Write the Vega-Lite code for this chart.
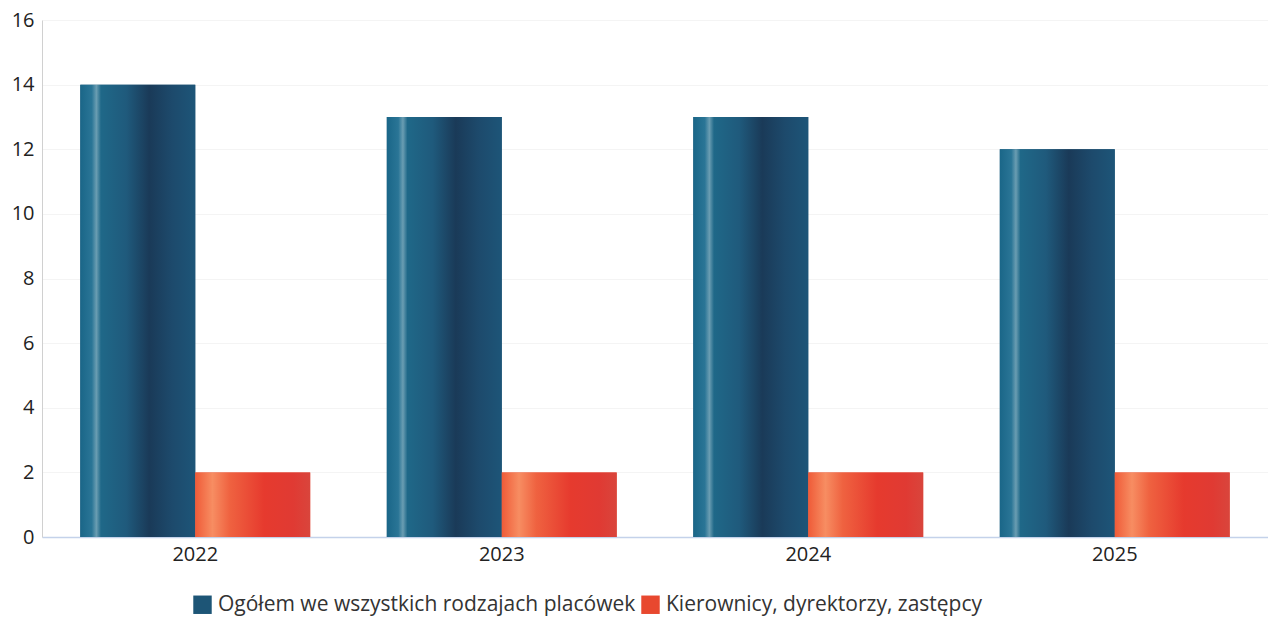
{
  "$schema": "https://vega.github.io/schema/vega-lite/v6.json",
  "width": 1226,
  "height": 517,
  "autosize": {"type": "none"},
  "padding": {"left": 42, "top": 20, "right": 0, "bottom": 87},
  "background": "white",
  "config": {
    "font": "Open Sans",
    "view": {"stroke": null}
  },
  "data": {
    "values": [
      {"year": "2022", "series": "Ogółem we wszystkich rodzajach placówek", "value": 14},
      {"year": "2022", "series": "Kierownicy, dyrektorzy, zastępcy", "value": 2},
      {"year": "2023", "series": "Ogółem we wszystkich rodzajach placówek", "value": 13},
      {"year": "2023", "series": "Kierownicy, dyrektorzy, zastępcy", "value": 2},
      {"year": "2024", "series": "Ogółem we wszystkich rodzajach placówek", "value": 13},
      {"year": "2024", "series": "Kierownicy, dyrektorzy, zastępcy", "value": 2},
      {"year": "2025", "series": "Ogółem we wszystkich rodzajach placówek", "value": 12},
      {"year": "2025", "series": "Kierownicy, dyrektorzy, zastępcy", "value": 2}
    ]
  },
  "encoding": {
    "x": {
      "field": "year", "type": "nominal",
      "scale": {"paddingInner": 0.25, "paddingOuter": 0.125},
      "axis": {"title": null, "labelAngle": 0, "labelFontSize": 20, "labelColor": "#222", "ticks": false, "domainColor": "#c4d2ea", "domainWidth": 1.5, "labelPadding": 7, "grid": false}
    },
    "xOffset": {
      "field": "series", "type": "nominal",
      "scale": {"domain": ["Ogółem we wszystkich rodzajach placówek", "Kierownicy, dyrektorzy, zastępcy"], "paddingInner": 0, "paddingOuter": 0}
    },
    "y": {
      "field": "value", "type": "quantitative",
      "scale": {"domain": [0, 16]},
      "axis": {"title": null, "values": [0,2,4,6,8,10,12,14,16], "labelOverlap": false, "labelFlush": false, "labelFontSize": 20, "labelColor": "#222", "ticks": false, "domainColor": "#d0d0d0", "gridColor": "#f4f4f4", "gridWidth": 1, "labelPadding": 8}
    }
  },
  "layer": [
    {
      "mark": {"type": "bar"},
      "encoding": {
        "color": {
          "field": "series", "type": "nominal",
          "scale": {"domain": ["Ogółem we wszystkich rodzajach placówek", "Kierownicy, dyrektorzy, zastępcy"], "range": ["#1d5576", "#e8482f"]},
          "legend": {"title": null, "orient": "none", "legendX": 150, "legendY": 574, "direction": "horizontal", "symbolType": "square", "symbolSize": 340, "symbolStrokeWidth": 0, "labelFontSize": 21, "labelColor": "#333", "labelLimit": 700, "columnPadding": 4, "symbolOffset": 0, "labelOffset": 5}
        }
      }
    },
    {
      "transform": [{"filter": "datum.series === 'Ogółem we wszystkich rodzajach placówek'"}],
      "mark": {
        "type": "bar",
        "fill": {
          "gradient": "linear", "x1": 0, "x2": 1, "y1": 0, "y2": 0,
          "stops": [
            {"offset": 0, "color": "#1a6688"},
            {"offset": 0.1, "color": "#2a7596"},
            {"offset": 0.14, "color": "#6a9db2"},
            {"offset": 0.18, "color": "#1f6888"},
            {"offset": 0.4, "color": "#1f5a7c"},
            {"offset": 0.6, "color": "#1a3a58"},
            {"offset": 0.8, "color": "#1d4a6c"},
            {"offset": 1, "color": "#1d5578"}
          ]
        }
      }
    },
    {
      "transform": [{"filter": "datum.series === 'Kierownicy, dyrektorzy, zastępcy'"}],
      "mark": {
        "type": "bar",
        "fill": {
          "gradient": "linear", "x1": 0, "x2": 1, "y1": 0, "y2": 0,
          "stops": [
            {"offset": 0, "color": "#ef5b38"},
            {"offset": 0.15, "color": "#f78d62"},
            {"offset": 0.3, "color": "#ef6240"},
            {"offset": 0.6, "color": "#e63a2e"},
            {"offset": 0.85, "color": "#e03a33"},
            {"offset": 1, "color": "#d9453c"}
          ]
        }
      }
    }
  ]
}
